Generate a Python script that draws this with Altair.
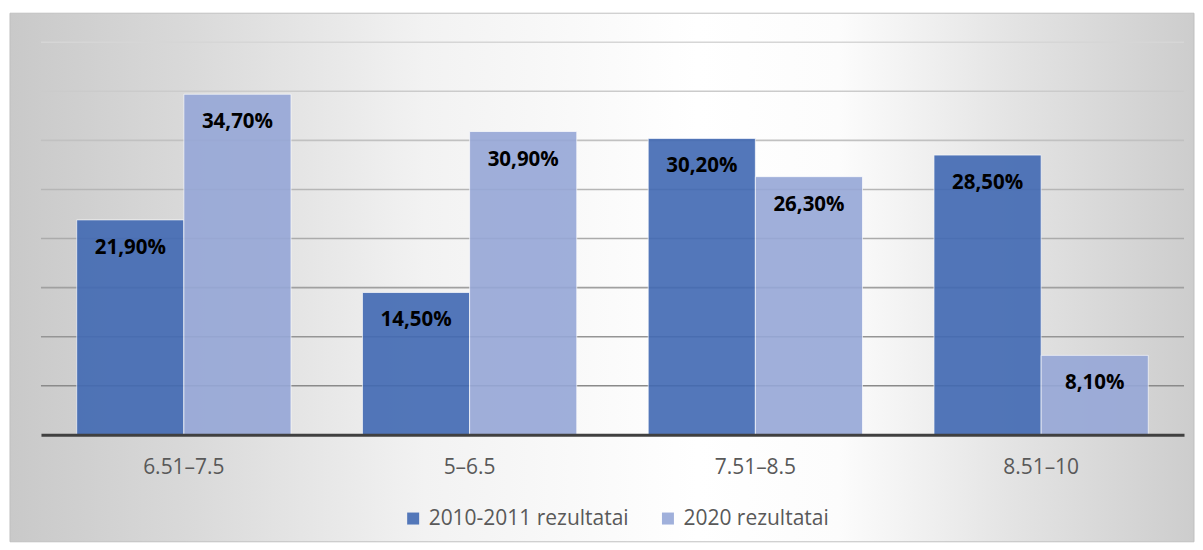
import altair as alt
import pandas as pd

categories = ["6.51–7.5", "5–6.5", "7.51–8.5", "8.51–10"]
series = ["2010-2011 rezultatai", "2020 rezultatai"]
values_2010 = [21.9, 14.5, 30.2, 28.5]
values_2020 = [34.7, 30.9, 26.3, 8.1]
grid_values = [5, 10, 15, 20, 25, 30, 35, 40]

colors = ["#4169B3", "#96A7D7"]
FONT = "Open Sans"

rows = []
for c, a, b in zip(categories, values_2010, values_2020):
    rows.append({"cat": c, "series": series[0], "v": a})
    rows.append({"cat": c, "series": series[1], "v": b})
df = pd.DataFrame(rows)
df["label"] = df["v"].map(lambda x: f"{x:.2f}".replace(".", ",") + "%")

W, H = 1144, 393

bg = alt.Chart(pd.DataFrame({"a": [0]})).mark_rect(
    fill=alt.LinearGradient(
        gradient="linear",
        stops=[
            alt.GradientStop(offset=0.0, color="#c9c9c9"),
            alt.GradientStop(offset=0.15, color="#d9d9d9"),
            alt.GradientStop(offset=0.35, color="#f2f2f2"),
            alt.GradientStop(offset=0.58, color="#ffffff"),
            alt.GradientStop(offset=0.70, color="#fcfcfc"),
            alt.GradientStop(offset=0.85, color="#e3e3e3"),
            alt.GradientStop(offset=1.0, color="#cdcdcd"),
        ],
        x1=0, x2=1, y1=0, y2=0,
    ),
    stroke="#c0c0c0",
    strokeWidth=1,
).encode(
    x=alt.value(-31), x2=alt.value(1154), y=alt.value(-29), y2=alt.value(500)
)

grid = alt.Chart(pd.DataFrame({"g": grid_values})).transform_calculate(
    col="'hsl(0,0%,' + (50 + datum.g * 0.85) + '%)'"
).mark_rule(strokeWidth=1.6).encode(
    y=alt.Y("g:Q", scale=alt.Scale(domain=[0, 40], nice=False), axis=None),
    x=alt.value(0),
    x2=alt.value(W),
    stroke=alt.Stroke("col:N", scale=None, legend=None),
)

xenc = alt.X(
    "cat:N",
    sort=categories,
    title=None,
    scale=alt.Scale(paddingInner=0.25, paddingOuter=0.125),
    axis=alt.Axis(
        labelAngle=0,
        ticks=False,
        tickSize=0,
        labelPadding=22,
        labelFont=FONT,
        labelFontSize=21,
        labelColor="#595959",
        domainColor="#404040",
        domainWidth=3,
        grid=False,
        zindex=2,
    ),
)
xoff = alt.XOffset("series:N", sort=series, scale=alt.Scale(paddingInner=0, paddingOuter=0))
yenc = alt.Y(
    "v:Q",
    scale=alt.Scale(domain=[0, 40], nice=False),
    axis=None,
)

bars = alt.Chart(df).mark_bar(
    opacity=0.9, stroke="#ffffff", strokeWidth=1, strokeOpacity=0.7
).encode(
    x=xenc,
    xOffset=xoff,
    y=yenc,
    color=alt.Color(
        "series:N",
        sort=series,
        scale=alt.Scale(domain=series, range=colors),
        legend=alt.Legend(
            title=None,
            orient="none",
            legendX=362,
            legendY=466,
            direction="horizontal",
            symbolType="square",
            symbolSize=144,
            symbolStrokeWidth=0,
            symbolOpacity=0.9,
            labelFont=FONT,
            labelFontSize=21,
            labelColor="#595959",
            labelOffset=5,
            labelLimit=0,
            columnPadding=28,
            padding=0,
        ),
    ),
)

text = alt.Chart(df).mark_text(
    font=FONT, fontSize=20.5, fontWeight="bold", color="black", baseline="middle", dy=28
).encode(
    x=alt.X("cat:N", sort=categories),
    xOffset=alt.XOffset("series:N", sort=series),
    y=alt.Y("v:Q"),
    text="label:N",
)

chart = alt.layer(bg, grid, bars, text).properties(
    width=W,
    height=H,
    padding={"left": 1, "top": 4, "right": 0, "bottom": 0},
    background="white",
).configure_view(stroke=None)

chart.save("out.html", embed_options={"renderer": "svg", "actions": False})
